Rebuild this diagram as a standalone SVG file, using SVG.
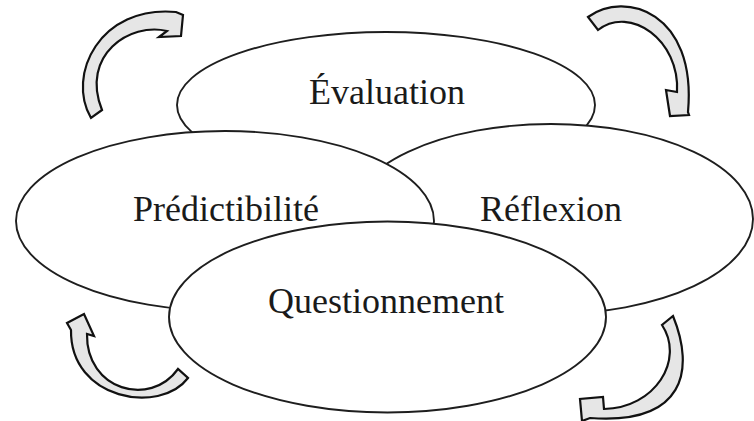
<svg xmlns="http://www.w3.org/2000/svg" width="754" height="421" viewBox="0 0 754 421">
  <style>
    .node ellipse { fill: #ffffff; stroke: #1e1e1e; stroke-width: 1.9; }
    .label { font-family: "Liberation Serif", "Times New Roman", serif; font-size: 36px; fill: #1a1a1a; text-anchor: middle; }
    .cycle { fill: #e6e6e6; stroke: #111111; stroke-width: 2.2; stroke-linejoin: miter; }
  </style>

  <rect width="754" height="421" fill="#ffffff"/>

  <!-- Four overlapping ellipses, back to front -->
  <g id="evaluation" class="node">
    <ellipse cx="386" cy="105" rx="209" ry="73"/>
    <text class="label" x="387" y="104">Évaluation</text>
  </g>

  <g id="reflexion" class="node">
    <ellipse cx="551" cy="219" rx="202" ry="95"/>
    <text class="label" x="551" y="221">Réflexion</text>
  </g>

  <g id="predictibilite" class="node">
    <ellipse cx="225" cy="221" rx="209" ry="90"/>
    <text class="label" x="226" y="221">Prédictibilité</text>
  </g>

  <g id="questionnement" class="node">
    <ellipse cx="387.5" cy="317" rx="218.5" ry="95.5"/>
    <text class="label" x="386" y="313">Questionnement</text>
  </g>

  <!-- Curved block arrows running clockwise around the cycle -->
  <g id="connectors">
    <path class="cycle" d="M 91,118 C 66,75 100,5 176,12 L 183,15 L 181,36 L 159,37 L 167,31 C 130,22 80,55 102,110 Z"/>
    <path class="cycle" d="M 588,17 C 625,-10 697,12 688,112 L 689,115 L 670,116 L 666,90 L 677,92 C 680,40 630,5 598,30 Z"/>
    <path class="cycle" d="M 673,316 C 695,370 685,425 590,418 L 582,421 L 580,399 L 603,397 L 604,409 C 655,408 685,360 662,325 Z"/>
    <path class="cycle" d="M 188,378 C 160,415 70,400 71,330 L 67,323 L 84,314 L 94,336 L 87,334 C 86,390 150,408 178,369 Z"/>
  </g>
</svg>
